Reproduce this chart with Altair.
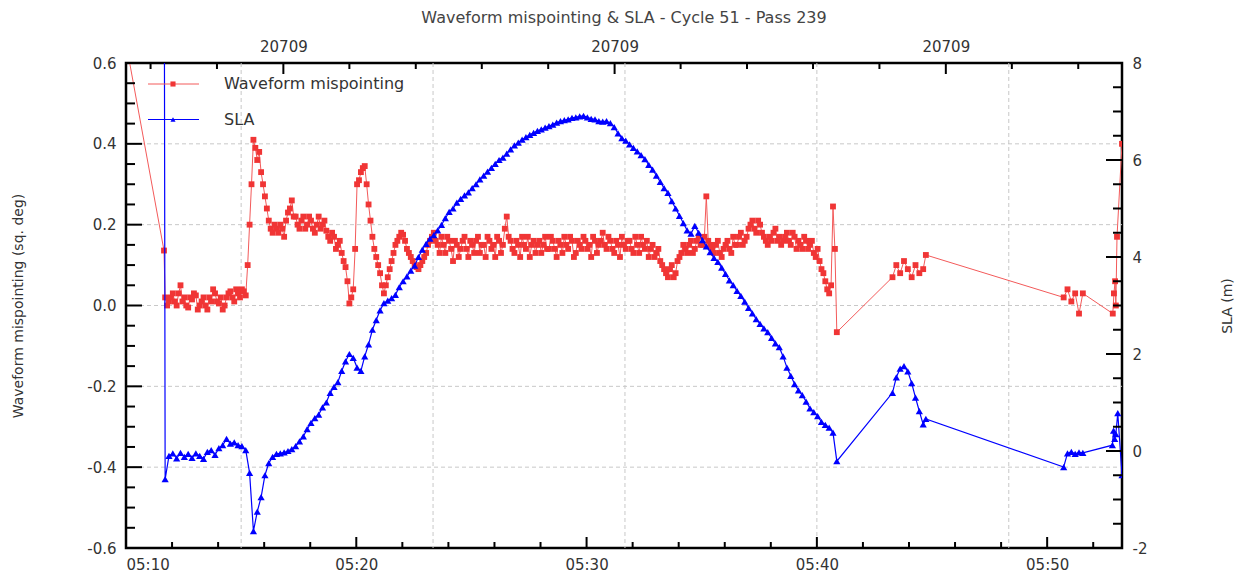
import altair as alt
import pandas as pd

# ---------------- data ----------------
T0 = 5 * 3600 + 10 * 60  # 05:10:00 is x = 0 (seconds)

def secs(hms):
    h, m, s = map(int, hms.split(":"))
    return h * 3600 + m * 60 + s - T0

# isolated samples before the dense track
red_pre_times = ["05:10:00", "05:11:39"]
red_pre_vals = [0.65, 0.136]
blue_pre_times = ["05:11:40"]
blue_pre_vals = [9.0]

# dense track: one sample every 10 s from 05:11:42
main_start = "05:11:42"
main_step = 10
red_main = [
    0.02, 0.01, 0.03, 0.00, 0.05, 0.02, -0.005, 0.015, 0.025, 0.00, 0.02, -0.01, 0.01, 0.03, 0.005, -0.01, 0.02, 0.035, 0.01, 0.03,
    0.04, 0.025, 0.20, 0.41, 0.36, 0.33, 0.27, 0.21, 0.18, 0.19, 0.20, 0.17, 0.23, 0.26, 0.22, 0.19, 0.22, 0.20, 0.21, 0.18,
    0.22, 0.20, 0.185, 0.16, 0.17, 0.15, 0.13, 0.095, 0.005, 0.04, 0.30, 0.33, 0.345, 0.25, 0.17, 0.12, 0.08, 0.03, 0.07, 0.11,
    0.15, 0.17, 0.175, 0.14, 0.12, 0.10, 0.09, 0.11, 0.13, 0.16, 0.18, 0.15, 0.17, 0.13, 0.16, 0.11, 0.15, 0.14, 0.17, 0.12,
    0.15, 0.16, 0.13, 0.15, 0.17, 0.14, 0.12, 0.16, 0.15, 0.22, 0.16, 0.13, 0.15, 0.17, 0.14, 0.12, 0.16, 0.15, 0.13, 0.17,
    0.14, 0.16, 0.12, 0.15, 0.17, 0.14, 0.16, 0.13, 0.15, 0.17, 0.14, 0.12, 0.16, 0.15, 0.18, 0.14, 0.16, 0.13, 0.15, 0.17,
    0.14, 0.16, 0.13, 0.15, 0.17, 0.14, 0.12, 0.15, 0.13, 0.11, 0.09, 0.07, 0.10, 0.08, 0.12, 0.15, 0.13, 0.16, 0.14, 0.17,
    0.15, 0.27, 0.15, 0.13, 0.16, 0.12, 0.15, 0.14, 0.17, 0.15, 0.18, 0.16, 0.19, 0.21, 0.18, 0.20, 0.17, 0.15, 0.16, 0.19,
    0.17, 0.16, 0.18, 0.15, 0.17, 0.16, 0.14, 0.16, 0.15, 0.13, 0.14, 0.09, 0.06, 0.03, 0.245, -0.066,
]
# the mispointing samples lying between those above (every 10 s from 05:11:47)
red_between_start = "05:11:47"
red_between = [
    0.00, 0.02, 0.01, 0.03, 0.01, 0.00, 0.02, 0.03, -0.01, 0.01, 0.00, 0.02, 0.04, 0.01, 0.02, 0.00, 0.03, 0.02, 0.04, 0.02,
    0.035, 0.10, 0.30, 0.39, 0.38, 0.30, 0.24, 0.19, 0.20, 0.18, 0.19, 0.21, 0.24, 0.22, 0.20, 0.21, 0.19, 0.22, 0.19, 0.20,
    0.19, 0.21, 0.17, 0.18, 0.14, 0.16, 0.11, 0.06, 0.02, 0.14, 0.31, 0.34, 0.30, 0.21, 0.14, 0.10, 0.05, 0.05, 0.09, 0.13,
    0.16, 0.18, 0.16, 0.13, 0.11, 0.095, 0.10, 0.12, 0.15, 0.17, 0.16, 0.13, 0.15, 0.17, 0.14, 0.16, 0.12, 0.16, 0.14, 0.16,
    0.13, 0.17, 0.15, 0.12, 0.16, 0.15, 0.17, 0.13, 0.19, 0.17, 0.14, 0.16, 0.12, 0.15, 0.17, 0.15, 0.13, 0.16, 0.15, 0.14,
    0.17, 0.14, 0.16, 0.13, 0.15, 0.17, 0.12, 0.16, 0.14, 0.16, 0.15, 0.17, 0.13, 0.16, 0.15, 0.17, 0.14, 0.16, 0.12, 0.15,
    0.16, 0.14, 0.17, 0.13, 0.15, 0.16, 0.14, 0.12, 0.14, 0.10, 0.08, 0.09, 0.07, 0.11, 0.13, 0.14, 0.15, 0.13, 0.16, 0.15,
    0.17, 0.16, 0.14, 0.15, 0.13, 0.14, 0.16, 0.13, 0.15, 0.17, 0.15, 0.17, 0.20, 0.19, 0.21, 0.18, 0.16, 0.17, 0.18, 0.16,
    0.15, 0.17, 0.16, 0.18, 0.14, 0.15, 0.17, 0.14, 0.16, 0.12, 0.11, 0.08, 0.04, 0.05, 0.14,
]
blue_main = [
    -0.58, -0.10, -0.05, -0.15, -0.04, -0.12, -0.06, -0.14, -0.05, -0.10, -0.16, -0.02, 0.02, -0.08, 0.06, 0.12, 0.25, 0.15, 0.18, 0.12,
    0.10, 0.02, -0.45, -1.65, -1.25, -0.95, -0.50, -0.25, -0.12, -0.06, -0.05, -0.03, 0.00, 0.04, 0.10, 0.20, 0.30, 0.45, 0.58, 0.68,
    0.75, 0.90, 1.00, 1.20, 1.32, 1.42, 1.65, 1.85, 2.00, 1.92, 1.72, 1.65, 1.95, 2.20, 2.50, 2.70, 2.90, 3.05, 3.10, 3.15,
    3.22, 3.38, 3.50, 3.60, 3.72, 3.82, 4.00, 4.15, 4.27, 4.38, 4.45, 4.55, 4.66, 4.80, 4.93, 5.00, 5.12, 5.20, 5.27, 5.33,
    5.42, 5.50, 5.60, 5.68, 5.76, 5.84, 5.92, 6.00, 6.05, 6.13, 6.22, 6.30, 6.36, 6.42, 6.47, 6.52, 6.56, 6.60, 6.63, 6.67,
    6.70, 6.73, 6.77, 6.80, 6.82, 6.84, 6.87, 6.88, 6.90, 6.91, 6.88, 6.85, 6.84, 6.80, 6.79, 6.80, 6.76, 6.68, 6.55, 6.45,
    6.40, 6.32, 6.25, 6.18, 6.10, 6.02, 5.90, 5.80, 5.68, 5.55, 5.42, 5.32, 5.15, 5.00, 4.85, 4.70, 4.55, 4.48, 4.64, 4.50,
    4.35, 4.22, 4.10, 3.98, 3.90, 3.78, 3.65, 3.52, 3.42, 3.30, 3.20, 3.08, 2.95, 2.84, 2.72, 2.62, 2.53, 2.45, 2.33, 2.22,
    2.14, 1.95, 1.72, 1.55, 1.38, 1.25, 1.15, 1.02, 0.88, 0.80, 0.72, 0.60, 0.54, 0.48, 0.38, -0.21,
]

# second group of samples (10 s apart from 05:43:17) and its last sample
c2_start = "05:43:17"
red_c2 = [0.07, 0.10, 0.08, 0.11, 0.09, 0.07, 0.10, 0.08, 0.09]
blue_c2 = [1.20, 1.52, 1.70, 1.75, 1.64, 1.40, 1.10, 0.82, 0.55]
c2_end_time = "05:44:44"
red_c2_end = 0.125
blue_c2_end = 0.66

# third group (10 s apart from 05:50:43)
c3_start = "05:50:43"
red_c3 = [0.02, 0.04, 0.01, 0.03, -0.02]
blue_c3 = [-0.33, -0.05, -0.02, -0.06, -0.03]
c3_end_time = "05:51:33"
red_c3_end = 0.03
blue_c3_end = -0.04

# last samples
red_end_times = ["05:52:51", "05:52:54", "05:52:57", "05:52:59", "05:53:02", "05:53:15"]
red_end_vals = [-0.02, 0.03, 0.06, 0.00, 0.17, 0.40]
blue_end_times = ["05:52:50", "05:52:53", "05:52:56", "05:52:59", "05:53:04", "05:53:15"]
blue_end_vals = [0.12, 0.42, 0.25, 0.35, 0.78, -0.50]

# axes / ticks / grid
left_major = [-0.6, -0.4, -0.2, 0.0, 0.2, 0.4, 0.6]
left_minor = [-0.55, -0.5, -0.45, -0.35, -0.3, -0.25, -0.15, -0.1, -0.05,
              0.05, 0.1, 0.15, 0.25, 0.3, 0.35, 0.45, 0.5, 0.55]
right_major = [-2, 0, 2, 4, 6, 8]
right_minor = [-1.5, -1, -0.5, 0.5, 1, 1.5, 2.5, 3, 3.5, 4.5, 5, 5.5, 6.5, 7, 7.5]
bottom_major = [0, 600, 1200, 1800, 2400]
bottom_minor = [120, 240, 360, 480, 720, 840, 960, 1080, 1320, 1440, 1560, 1680,
                1920, 2040, 2160, 2280, 2520]
top_ticks = [64, 237, 410, 582, 755, 927, 1100, 1273, 1445, 1618, 1790, 1963, 2136, 2308, 2481]
top_major = [410, 1273, 2136]
top_label = "20709"
hgrid = [-0.4, -0.2, 0.0, 0.2, 0.4]
vgrid = [300, 800, 1300, 1800, 2300]
x_end = 2595

title = "Waveform mispointing & SLA - Cycle 51 - Pass 239"
left_title = "Waveform mispointing (sq. deg)"
right_title = "SLA (m)"
series_names = ["Waveform mispointing", "SLA"]

# ---------------- build tables ----------------
def seg(start, step, vals):
    s0 = secs(start)
    return [s0 + i * step for i in range(len(vals))]

red_t = ([secs(t) for t in red_pre_times] + seg(main_start, main_step, red_main)
         + seg(red_between_start, main_step, red_between)
         + seg(c2_start, 10, red_c2) + [secs(c2_end_time)]
         + seg(c3_start, 10, red_c3) + [secs(c3_end_time)]
         + [secs(t) for t in red_end_times])
red_v = (red_pre_vals + red_main + red_between + red_c2 + [red_c2_end] + red_c3 + [red_c3_end] + red_end_vals)
blue_t = ([secs(t) for t in blue_pre_times] + seg(main_start, main_step, blue_main)
          + seg(c2_start, 10, blue_c2) + [secs(c2_end_time)]
          + seg(c3_start, 10, blue_c3) + [secs(c3_end_time)]
          + [secs(t) for t in blue_end_times])
blue_v = (blue_pre_vals + blue_main + blue_c2 + [blue_c2_end] + blue_c3 + [blue_c3_end] + blue_end_vals)

red_df = pd.DataFrame({"t": red_t, "v": red_v}).sort_values("t")
blue_df = pd.DataFrame({"t": blue_t, "s": blue_v}).sort_values("t")

# ---------------- styles ----------------
W, H = 996, 485
FONT = "DejaVu Sans"
TXT = "#333333"
RED = "#f03535"
RED_LINE = "#f35a5a"
BLUE = "#0000ff"
GRID = "#c8c8c8"
XS = alt.Scale(domain=[0, x_end], nice=False, zero=False)
YL = alt.Scale(domain=[-0.6, 0.6], nice=False, zero=False)
YR = alt.Scale(domain=[-2, 8], nice=False, zero=False)

MAJ_V, MIN_V = 16, 9    # left/right tick lengths
MAJ_H, MIN_H = 11, 6    # top/bottom tick lengths

bottom_axis = alt.Axis(values=bottom_major, orient="bottom", ticks=False, domain=False, grid=False,
                       labelExpr="'05:' + format(10 + datum.value / 60, '02d')",
                       labelFont=FONT, labelFontSize=15, labelColor=TXT, labelPadding=9, title=None)
left_axis = alt.Axis(values=left_major, orient="left", ticks=False, domain=False, grid=False,
                     labelExpr="(datum.value < 0 ? '-' : '') + format(abs(datum.value), '.1f')",
                     labelFont=FONT, labelFontSize=15, labelColor=TXT, labelPadding=10,
                     title=left_title, titleFont=FONT, titleFontSize=14, titleFontWeight="normal",
                     titleColor=TXT, titleAngle=270, titleX=-108, titleY=H / 2,
                     titleAlign="center", titleBaseline="middle")
right_axis = alt.Axis(values=right_major, orient="right", ticks=False, domain=False, grid=False,
                      labelExpr="(datum.value < 0 ? '-' : '') + format(abs(datum.value), 'd')",
                      labelFont=FONT, labelFontSize=15, labelColor=TXT, labelPadding=10,
                      title=right_title, titleFont=FONT, titleFontSize=14, titleFontWeight="normal",
                      titleColor=TXT, titleAngle=270, titleX=105, titleY=H / 2,
                      titleAlign="center", titleBaseline="middle")
top_axis = alt.Axis(values=top_major, orient="top", ticks=False, domain=False, grid=False,
                    labelExpr=f"'{top_label}'", labelFont=FONT, labelFontSize=15, labelColor=TXT,
                    labelPadding=9, title=None)

one = pd.DataFrame({"a": [0]})

hgrid_l = alt.Chart(pd.DataFrame({"g": hgrid})).mark_rule(color=GRID, strokeDash=[4, 3], strokeWidth=1).encode(
    y=alt.Y("g:Q", scale=YL, axis=None), x=alt.value(0), x2=alt.value(W))
vgrid_l = alt.Chart(pd.DataFrame({"g": vgrid})).mark_rule(color=GRID, strokeDash=[4, 3], strokeWidth=1).encode(
    x=alt.X("g:Q", scale=XS, axis=None), y=alt.value(0), y2=alt.value(H))

red_line = alt.Chart(red_df).mark_line(color=RED_LINE, strokeWidth=1, clip=True).encode(
    x=alt.X("t:Q", scale=XS, axis=bottom_axis), y=alt.Y("v:Q", scale=YL, axis=left_axis))
red_pts = alt.Chart(red_df).mark_point(shape="square", filled=True, size=34, color=RED, opacity=1, clip=True).encode(
    x=alt.X("t:Q", scale=XS, axis=None), y=alt.Y("v:Q", scale=YL, axis=None))
blue_line = alt.Chart(blue_df).mark_line(color=BLUE, strokeWidth=1.2, clip=True).encode(
    x=alt.X("t:Q", scale=XS, axis=None), y=alt.Y("s:Q", scale=YR, axis=right_axis))
blue_pts = alt.Chart(blue_df).mark_point(shape="triangle-up", filled=True, size=52, color=BLUE, opacity=1, clip=True).encode(
    x=alt.X("t:Q", scale=XS, axis=None), y=alt.Y("s:Q", scale=YR, axis=None))

def vticks(vals, scale, x0, x1):
    return alt.Chart(pd.DataFrame({"v": vals})).mark_rule(color="black", strokeWidth=2).encode(
        y=alt.Y("v:Q", scale=scale, axis=None), x=alt.value(x0), x2=alt.value(x1))

def hticks(vals, y0, y1, axis=None):
    return alt.Chart(pd.DataFrame({"v": vals})).mark_rule(color="black", strokeWidth=2).encode(
        x=alt.X("v:Q", scale=XS, axis=axis), y=alt.value(y0), y2=alt.value(y1))

ticks = [
    vticks(left_major, YL, 0, MAJ_V), vticks(left_minor, YL, 0, MIN_V),
    vticks(right_major, YR, W - MAJ_V, W), vticks(right_minor, YR, W - MIN_V, W),
    hticks(bottom_major, H, H - MAJ_H), hticks(bottom_minor, H, H - MIN_H),
    hticks([t for t in top_ticks if t not in top_major], 0, MIN_H),
    hticks(top_major, 0, MAJ_H, axis=top_axis),
]

# legend (inside the plot, top left)
LEG_Y = [21, 56.5]
leg = []
for name, col, lcol, shape, ly in [(series_names[0], RED, RED_LINE, "square", LEG_Y[0]),
                                   (series_names[1], BLUE, BLUE, "triangle-up", LEG_Y[1])]:
    base = alt.Chart(one)
    leg.append(base.mark_rule(color=lcol, strokeWidth=1).encode(x=alt.value(22), x2=alt.value(73), y=alt.value(ly)))
    leg.append(base.mark_point(shape=shape, filled=True, size=26, color=col, opacity=1).encode(
        x=alt.value(47), y=alt.value(ly)))
    leg.append(base.mark_text(text=name, align="left", baseline="middle", font=FONT, fontSize=16, color=TXT).encode(
        x=alt.value(98), y=alt.value(ly)))

chart = alt.layer(
    hgrid_l, vgrid_l, red_line, red_pts, blue_line, blue_pts, *ticks, *leg
).resolve_scale(y="independent").resolve_axis(x="independent", y="independent").properties(
    width=W, height=H,
    title=alt.TitleParams(title, font=FONT, fontSize=16, fontWeight="normal", color="#444444",
                          anchor="middle", offset=13),
    padding={"left": 118, "top": 55, "right": 117, "bottom": 32},
    autosize=alt.AutoSizeParams(type="none"),
).configure_view(stroke="black", strokeWidth=2.5)

chart.save("out.html", embed_options={"renderer": "svg", "actions": False})
